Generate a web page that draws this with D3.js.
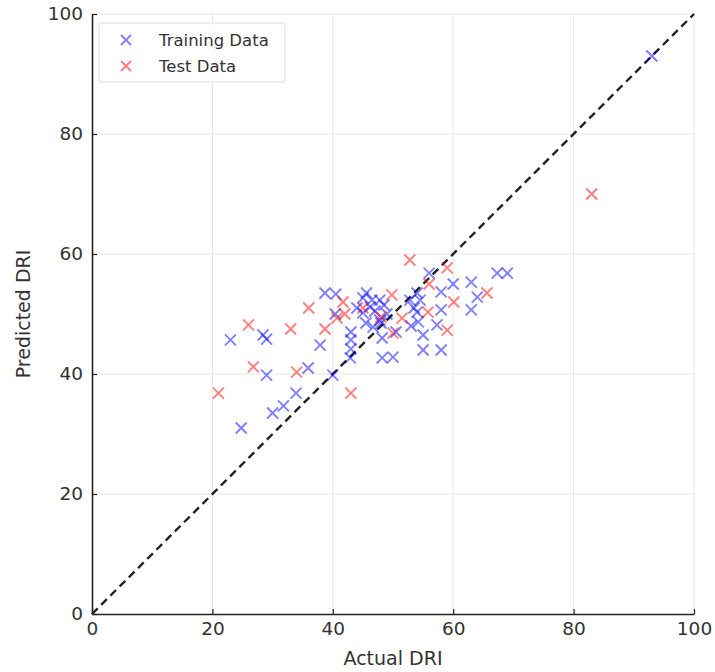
<!DOCTYPE html>
<html>
<head>
<meta charset="utf-8">
<script src="https://cdn.jsdelivr.net/npm/d3@7"></script>
<style>
  body { margin: 0; background: #fff; }
  text { font-family: "DejaVu Sans", sans-serif; }
</style>
</head>
<body>
<div id="chart"></div>
<script>
const width = 715, height = 672;
const margin = { top: 14, right: 21, bottom: 58, left: 92 };

// values: [actual, predicted]
const trainData = [
	[93, 93], [23, 45.7], [28.4, 46.5], [29, 45.8], [29, 39.8], [24.8, 31], [30, 33.5],
	[31.8, 34.7], [33.9, 36.8], [35.9, 41], [37.9, 44.8], [38.7, 53.5], [40.5, 53.3],
	[40, 39.8], [40.4, 50], [43, 47], [43, 45.7], [43, 44.2], [42.9, 42.7], [45, 52.7],
	[45.6, 53.5], [46.5, 52.3], [46.2, 51.2], [45, 50.2], [47.8, 52.3], [47.8, 49],
	[46.7, 47.8], [48.2, 46], [48.2, 42.7], [50, 42.8], [52.8, 52.3], [54.5, 52.3],
	[54, 50.3], [54.2, 48.7], [53, 48], [55, 46.5], [55, 44], [58, 44], [57.3, 48.2],
	[58, 50.7], [58, 53.7], [56, 56.8], [60, 55], [63, 55.3], [64, 52.8], [63, 50.7],
	[67.3, 56.8], [69, 56.8], [48, 48.5], [49, 50], [53.5, 51], [45.5, 48.5], [44, 51],
	[47, 50.5], [54, 53.5], [50.5, 47], [48.5, 51.5]
];
const testData = [
	[83, 70], [21, 36.8], [26, 48.2], [26.8, 41.2], [33, 47.5], [34, 40.3], [36, 51],
	[38.7, 47.5], [41.7, 52], [42, 50], [40.7, 49.3], [43, 36.8], [45, 51], [49.8, 53.2],
	[51.5, 49.3], [50, 46.8], [52.8, 59], [59, 57.7], [60.1, 52], [65.6, 53.5], [59, 47.3],
	[55.8, 50.3], [56, 55], [48, 49.5]
];
const ticks = [0, 20, 40, 60, 80, 100];

const svg = d3.select("#chart").append("svg")
	.attr("width", width)
	.attr("height", height);

const x = d3.scaleLinear().domain([0, 100]).range([margin.left, width - margin.right]);
const y = d3.scaleLinear().domain([0, 100]).range([height - margin.bottom, margin.top]);

// grid
const grid = svg.append("g").attr("stroke", "#e6e6e6").attr("stroke-width", 1);
grid.selectAll(".gx").data(ticks.slice(1)).join("line")
	.attr("x1", (d) => x(d)).attr("x2", (d) => x(d))
	.attr("y1", y(0)).attr("y2", y(100));
grid.selectAll(".gy").data(ticks.slice(1)).join("line")
	.attr("y1", (d) => y(d)).attr("y2", (d) => y(d))
	.attr("x1", x(0)).attr("x2", x(100));

// diagonal
svg.append("line")
	.attr("x1", x(0)).attr("y1", y(0))
	.attr("x2", x(100)).attr("y2", y(100))
	.attr("stroke", "#222")
	.attr("stroke-width", 2.4)
	.attr("stroke-dasharray", "8,5");

// points
const cross = (g, data, color) => {
	const s = 5.5;
	g.selectAll("path").data(data).join("path")
		.attr("d", (d) => {
			const cx = x(d[0]), cy = y(d[1]);
			return `M${cx - s},${cy - s}L${cx + s},${cy + s}M${cx - s},${cy + s}L${cx + s},${cy - s}`;
		})
		.attr("stroke", color)
		.attr("stroke-opacity", 0.5)
		.attr("stroke-width", 1.9)
		.attr("fill", "none");
};
cross(svg.append("g"), trainData, "#0000ff");
cross(svg.append("g"), testData, "#ff0000");

// axes
const xAxis = svg.append("g")
	.attr("transform", `translate(0,${y(0)})`)
	.call(d3.axisBottom(x).tickValues(ticks).tickSizeInner(-5).tickSizeOuter(0).tickPadding(7));
const yAxis = svg.append("g")
	.attr("transform", `translate(${x(0)},0)`)
	.call(d3.axisLeft(y).tickValues(ticks).tickSizeInner(-5).tickSizeOuter(0).tickPadding(9));
[xAxis, yAxis].forEach((a) => {
	a.select(".domain").attr("stroke", "#222").attr("stroke-width", 1.6);
	a.selectAll(".tick line").attr("stroke", "#222").attr("stroke-width", 1.2);
	a.selectAll(".tick text").attr("fill", "#333").style("font-size", "18.5px");
});
xAxis.selectAll(".tick text").attr("dy", "0.75em");

svg.append("text")
	.attr("x", x(50)).attr("y", height - 7)
	.attr("text-anchor", "middle")
	.attr("fill", "#333")
	.style("font-size", "19px")
	.text("Actual DRI");
svg.append("text")
	.attr("transform", `translate(30,${y(50)}) rotate(-90)`)
	.attr("text-anchor", "middle")
	.attr("fill", "#333")
	.style("font-size", "19px")
	.text("Predicted DRI");

// legend
const legend = svg.append("g").attr("transform", "translate(99,23)");
legend.append("rect")
	.attr("width", 186).attr("height", 59).attr("rx", 3)
	.attr("fill", "#fff").attr("fill-opacity", 0.8)
	.attr("stroke", "#ddd");
const items = [["Training Data", "#0000ff"], ["Test Data", "#ff0000"]];
items.forEach(([label, color], i) => {
	const cy = 17 + i * 26, cx = 27, s = 5;
	legend.append("path")
		.attr("d", `M${cx - s},${cy - s}L${cx + s},${cy + s}M${cx - s},${cy + s}L${cx + s},${cy - s}`)
		.attr("stroke", color).attr("stroke-opacity", 0.5).attr("stroke-width", 1.9);
	legend.append("text")
		.attr("x", 60).attr("y", cy + 6)
		.attr("fill", "#333")
		.style("font-size", "16.5px")
		.text(label);
});
</script>
</body>
</html>
